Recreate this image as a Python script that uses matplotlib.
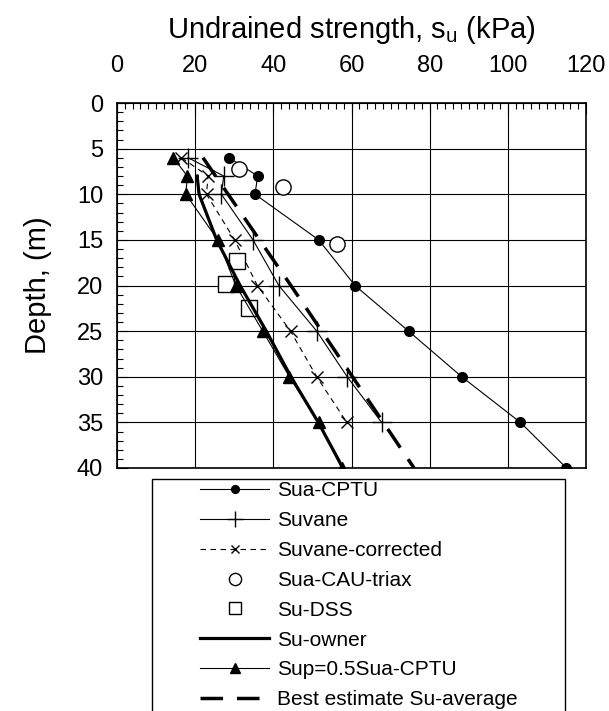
import matplotlib
matplotlib.use("Agg")
import matplotlib.pyplot as plt
from matplotlib.patches import Rectangle
from matplotlib.ticker import MultipleLocator

plt.rcParams['font.family'] = ['Liberation Sans', 'DejaVu Sans']
plt.rcParams['mathtext.default'] = 'regular'

# Sua-CPTU (kPa) vs depth (m)
cptu_depth = [6, 8, 10, 15, 20, 25, 30, 35, 40]
cptu_su = [28.7, 36.0, 35.3, 51.6, 60.9, 74.6, 88.2, 103.2, 115.0]

# Sup = 0.5 Sua-CPTU
sup_depth = [6, 8, 10, 15, 20, 25, 30, 35, 40]
sup_su = [14.4, 18.0, 17.6, 25.8, 30.4, 37.3, 44.1, 51.6, 57.5]

# field vane
vane_depth = [6, 8, 10, 15, 20, 25, 30, 35]
vane_su = [18.2, 27.3, 26.7, 34.8, 41.4, 51.1, 58.9, 67.7]
vanec_su = [16.5, 23.3, 22.9, 30.1, 35.9, 44.4, 51.1, 58.8]

# lab tests
triax_depth = [7.2, 9.2, 15.4]
triax_su = [31.2, 42.5, 56.2]
dss_depth = [17.3, 19.8, 22.5]
dss_su = [30.6, 27.8, 33.7]

# owner profile and best estimate
owner_depth = [8, 10, 15, 20, 25, 30, 35, 40]
owner_su = [20.5, 21.0, 25.5, 31.5, 38.2, 44.5, 51.5, 57.8]
best_depth = [6, 20, 40]
best_su = [22.0, 44.5, 76.0]

W, H = 609, 711
fig = plt.figure(figsize=(W / 100, H / 100), dpi=100)
ax = fig.add_axes([117 / W, 1 - 468 / H, 469 / W, 365 / H])

ax.plot(cptu_su, cptu_depth, color="black", lw=0.8, marker="o", ms=7, label="Sua-CPTU")
ax.plot(vane_su, vane_depth, color="black", lw=0.8, marker="+", ms=14, mew=1, label="Suvane")
ax.plot(vanec_su, vane_depth, color="black", lw=0.8, ls=(0, (5, 4)), marker="x", ms=8, mew=1,
        label="Suvane-corrected")
ax.plot(triax_su, triax_depth, ls="none", marker="o", ms=11, mfc="white", mec="black", mew=1,
        label="Sua-CAU-triax")
ax.plot(dss_su, dss_depth, ls="none", marker="s", ms=11, mfc="white", mec="black", mew=1,
        label="Su-DSS")
ax.plot(owner_su, owner_depth, color="black", lw=2.3, marker=".", ms=2, label="Su-owner")
ax.plot(sup_su, sup_depth, color="black", lw=0.8, marker="^", ms=9, label="Sup=0.5Sua-CPTU")
ax.plot(best_su, best_depth, color="black", lw=2.5, ls=(0, (6.5, 4)), label="Best estimate Su-average")

ax.set_xlim(0, 120)
ax.set_ylim(40, 0)
ax.xaxis.tick_top()
ax.xaxis.set_label_position("top")
ax.xaxis.set_major_locator(MultipleLocator(20))
ax.xaxis.set_minor_locator(MultipleLocator(2))
ax.yaxis.set_major_locator(MultipleLocator(5))
ax.yaxis.set_minor_locator(MultipleLocator(1))
ax.tick_params(which="both", direction="in", color="black", width=0.8, labelsize=17)
ax.tick_params(axis="x", which="major", length=8, pad=19)
ax.tick_params(axis="x", which="minor", length=4)
ax.tick_params(axis="y", which="major", length=8, pad=10)
ax.tick_params(axis="y", which="minor", length=4)
ax.grid(which="major", color="black", lw=0.8)
for s in ax.spines.values():
    s.set_linewidth(1.2)

ax.set_xlabel("Undrained strength, s$_u$ (kPa)", fontsize=21, labelpad=12)
ax.set_ylabel("Depth, (m)", fontsize=21, labelpad=18)

# legend box (cut off at bottom of the figure)
fig.patches.append(Rectangle((152 / W, -0.02), (565 - 152) / W, 1 - 479 / H + 0.02,
                             transform=fig.transFigure, fill=False, edgecolor="black", lw=1))
handles, labels = ax.get_legend_handles_labels()
fig.legend(handles, labels, loc="upper left", bbox_to_anchor=(192 / W, 1 - 473 / H),
           frameon=False, fontsize=15, handlelength=3.3, handletextpad=0.4,
           labelspacing=0.52, markerscale=0.8, borderaxespad=0)

fig.savefig("out.png", dpi=100)
